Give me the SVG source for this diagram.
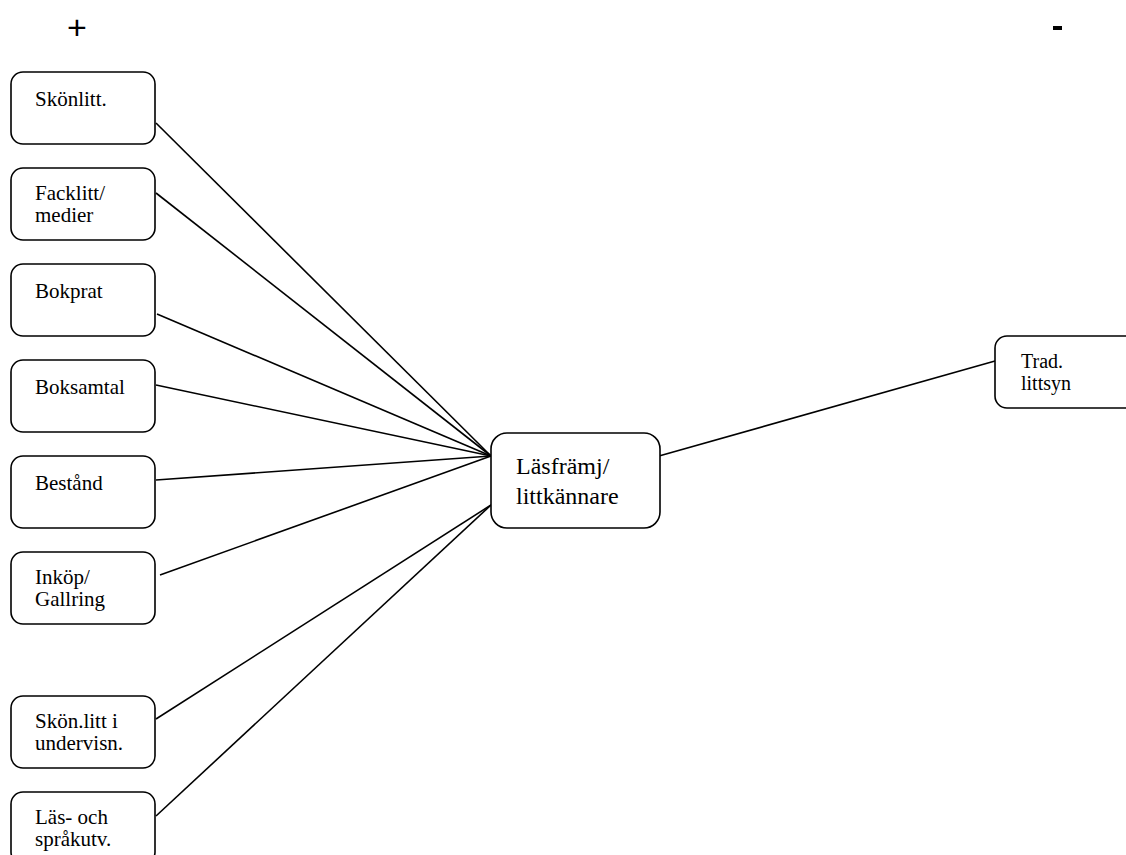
<svg xmlns="http://www.w3.org/2000/svg" width="1126" height="855" viewBox="0 0 1126 855">
<style>
.box{fill:#fff;stroke:#000;stroke-width:1.6}
.t{font-family:"Liberation Serif",serif;font-size:21px;fill:#000}
.tr{font-family:"Liberation Serif",serif;font-size:20px;fill:#000}
.tc{font-family:"Liberation Serif",serif;font-size:24px;fill:#000}
.s{font-family:"Liberation Sans",sans-serif;font-size:34px;fill:#000}
.ln{stroke:#000;stroke-width:1.6;fill:none}
</style>
<rect width="1126" height="855" fill="#fff"/>
<text class="s" x="77" y="39" text-anchor="middle">+</text>
<rect x="1053" y="26" width="9" height="4" fill="#000"/>
<g id="connectors">
<line class="ln" x1="156" y1="123" x2="491" y2="456"/>
<line class="ln" x1="156" y1="193" x2="491" y2="456"/>
<line class="ln" x1="157" y1="314" x2="491" y2="456"/>
<line class="ln" x1="156" y1="385" x2="491" y2="456"/>
<line class="ln" x1="156" y1="480" x2="491" y2="456"/>
<line class="ln" x1="160" y1="575" x2="491" y2="456"/>
<line class="ln" x1="156" y1="719" x2="491" y2="505"/>
<line class="ln" x1="156" y1="816" x2="491" y2="505"/>
<line class="ln" x1="659" y1="456" x2="995" y2="361"/>
</g>
<g id="n1"><rect class="box" x="11" y="72" width="144" height="72" rx="12"/><text class="t" x="35" y="106">Skönlitt.</text></g>
<g id="n2"><rect class="box" x="11" y="168" width="144" height="72" rx="12"/><text class="t" x="35" y="200">Facklitt/</text><text class="t" x="35" y="222">medier</text></g>
<g id="n3"><rect class="box" x="11" y="264" width="144" height="72" rx="12"/><text class="t" x="35" y="298">Bokprat</text></g>
<g id="n4"><rect class="box" x="11" y="360" width="144" height="72" rx="12"/><text class="t" x="35" y="394">Boksamtal</text></g>
<g id="n5"><rect class="box" x="11" y="456" width="144" height="72" rx="12"/><text class="t" x="35" y="490">Bestånd</text></g>
<g id="n6"><rect class="box" x="11" y="552" width="144" height="72" rx="12"/><text class="t" x="35" y="584">Inköp/</text><text class="t" x="35" y="606">Gallring</text></g>
<g id="n7"><rect class="box" x="11" y="696" width="144" height="72" rx="12"/><text class="t" x="35" y="728">Skön.litt i</text><text class="t" x="35" y="750">undervisn.</text></g>
<g id="n8"><rect class="box" x="11" y="792" width="144" height="72" rx="12"/><text class="t" x="35" y="824">Läs- och</text><text class="t" x="35" y="846">språkutv.</text></g>
<g id="center"><rect class="box" x="491" y="433" width="169" height="95" rx="16"/><text class="tc" x="516" y="474">Läsfrämj/</text><text class="tc" x="516" y="504">littkännare</text></g>
<g id="trad"><rect class="box" x="995" y="336" width="144" height="72" rx="12"/><text class="tr" x="1021" y="368">Trad.</text><text class="tr" x="1021" y="390">littsyn</text></g>
</svg>
